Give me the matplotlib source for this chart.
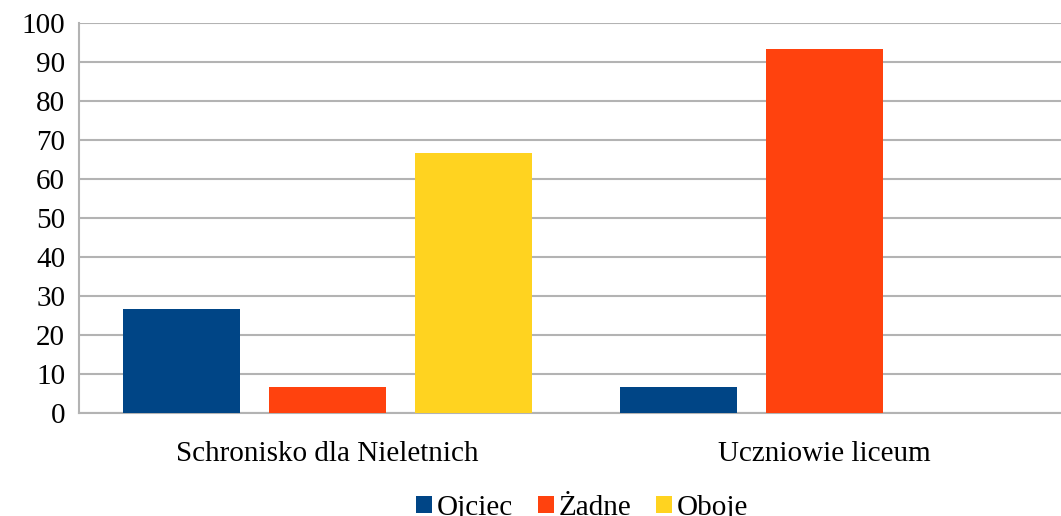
import matplotlib.pyplot as plt
import numpy as np
from matplotlib.patches import Patch

categories = ["Schronisko dla Nieletnich", "Uczniowie liceum"]
series_names = ["Ojciec", "Żadne", "Oboje"]
ojciec = [26.7, 6.7]
zadne = [6.7, 93.3]
oboje = [66.7, 0.0]
y_ticks = [0, 10, 20, 30, 40, 50, 60, 70, 80, 90, 100]

colors = ["#004586", "#FF420E", "#FFD320"]
GRID = "#b3b3b3"

plt.rcParams["font.family"] = ["Liberation Serif", "DejaVu Serif"]

W, H = 1061, 516
fig = plt.figure(figsize=(W / 100, H / 100), dpi=100)
ax = fig.add_axes([79 / W, 103 / H, 994 / W, 390 / H])

x = np.arange(len(categories)) + 0.5
bar_w = 117 / 497
step = 146 / 497
for i, (vals, c) in enumerate(zip([ojciec, zadne, oboje], colors)):
    ax.bar(x + (i - 1) * step, vals, width=bar_w, color=c, zorder=3)

ax.set_xlim(0, 2)
ax.set_ylim(0, 100)
ax.set_yticks(y_ticks)
ax.set_xticks(x)
ax.set_xticklabels(categories)
ax.tick_params(axis="both", length=0, labelsize=21, colors="black")
ax.tick_params(axis="x", pad=20)
ax.tick_params(axis="y", pad=10)
ax.yaxis.grid(True, color=GRID, linewidth=1.5, zorder=0)
for side in ["top", "right"]:
    ax.spines[side].set_visible(False)
for side in ["left", "bottom"]:
    ax.spines[side].set_color(GRID)
    ax.spines[side].set_linewidth(1.5)

handles = [Patch(facecolor=c, edgecolor="none") for c in colors]
fig.legend(handles, series_names, loc="center", bbox_to_anchor=(582 / W, 8 / H),
           ncol=3, frameon=False, fontsize=21, handlelength=0.55, handleheight=0.55,
           handletextpad=0.17, columnspacing=0.85, borderpad=0)

fig.savefig("out.png", dpi=100)
